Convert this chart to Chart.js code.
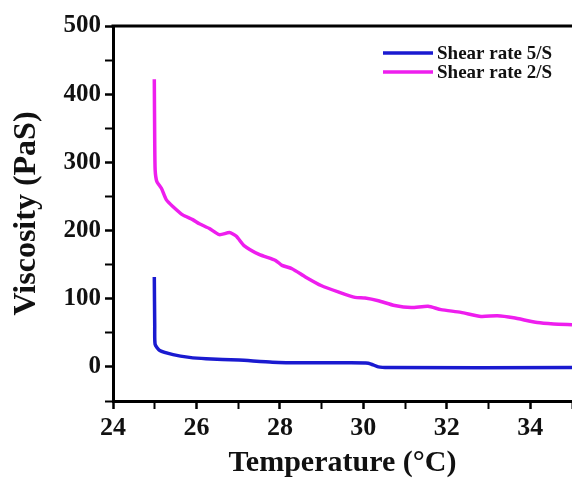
<!DOCTYPE html>
<html>
<head>
<meta charset="utf-8">
<script src="https://cdn.jsdelivr.net/npm/chart.js@4/dist/chart.umd.min.js"></script>
<style>
    html, body { margin: 0; padding: 0; background: #fff; overflow: hidden; }
    #wrap { position: relative; width: 576px; height: 481px; }
</style>
</head>
<body>
<div id="wrap"><canvas id="viscosityChart"></canvas></div>
<script>
// === DATA ===
const temp5 = [24.99, 25.0, 25.01, 25.12, 25.44, 25.83, 26.23, 27.02, 27.82, 28.6, 29.4, 30.12, 30.36, 30.6, 35.0];
const visc5 = [132, 60, 33, 24, 18, 14, 12, 10, 7, 6, 6, 5.5, 0, -1, -1];

const temp2 = [24.99, 25.0, 25.01, 25.05, 25.16, 25.28, 25.44, 25.67, 25.91, 26.07, 26.31, 26.55, 26.79, 26.95,
    27.14, 27.5, 27.9, 28.05, 28.29, 28.61, 29.0, 29.4, 29.8, 30.04, 30.36, 30.75, 31.15, 31.55, 31.86, 32.34,
    32.82, 33.21, 33.6, 34.17, 34.56, 35.0];
const visc2 = [422, 330, 289, 272, 262, 245, 235, 223, 216, 210, 203, 194, 197, 192,
    178, 165, 156, 149, 144, 132, 119, 110, 102, 101, 97, 90, 87, 89, 84, 80,
    74, 75, 72, 65, 63, 62];

const seriesLabels = ['Shear rate 5/S', 'Shear rate 2/S'];
const xTickLabels = [24, 26, 28, 30, 32, 34];
const yTickLabels = [0, 100, 200, 300, 400, 500];

const COLORS = {
    blue: '#1a1ad0',
    magenta: '#ee1eee',
    axis: '#000'
};

const FONT = 'Liberation Serif';

function toPoints(xs, ys) {
    return xs.map((x, i) => ({ x: x, y: ys[i] }));
}

// top frame line across the plot
const topFrame = {
    id: 'topFrame',
    afterDraw(chart) {
        const { ctx, chartArea } = chart;
        ctx.save();
        ctx.strokeStyle = COLORS.axis;
        ctx.lineWidth = 3;
        ctx.beginPath();
        ctx.moveTo(chartArea.left - 1.5, chartArea.top);
        ctx.lineTo(chartArea.right + 2, chartArea.top);
        ctx.stroke();
        ctx.restore();
    }
};

// small legend in the upper right corner
const cornerLegend = {
    id: 'cornerLegend',
    afterDraw(chart) {
        const ctx = chart.ctx;
        ctx.save();
        ctx.font = 'bold 19px "' + FONT + '"';
        ctx.textBaseline = 'middle';
        ctx.textAlign = 'left';
        chart.data.datasets.forEach((ds, i) => {
            const y = 53 + i * 19;
            ctx.strokeStyle = ds.borderColor;
            ctx.lineWidth = 3.5;
            ctx.beginPath();
            ctx.moveTo(383, y);
            ctx.lineTo(433, y);
            ctx.stroke();
            ctx.fillStyle = '#111';
            ctx.fillText(ds.label, 437, y + 1);
        });
        ctx.restore();
    }
};

new Chart(document.getElementById('viscosityChart'), {
    type: 'line',
    data: {
        datasets: [
            {
                label: seriesLabels[0],
                data: toPoints(temp5, visc5),
                borderColor: COLORS.blue,
                borderWidth: 3.5,
                pointRadius: 0,
                tension: 0.2,
                fill: false
            },
            {
                label: seriesLabels[1],
                data: toPoints(temp2, visc2),
                borderColor: COLORS.magenta,
                borderWidth: 3.5,
                pointRadius: 0,
                tension: 0.2,
                fill: false
            }
        ]
    },
    options: {
        responsive: true,
        maintainAspectRatio: false,
        animation: false,
        layout: { padding: { top: 26, right: 0, bottom: 0, left: 0 } },
        plugins: {
            legend: { display: false },
            tooltip: { enabled: false }
        },
        scales: {
            x: {
                type: 'linear',
                min: 24,
                max: 35,
                afterFit: scale => { scale.height = 80; },
                border: { color: COLORS.axis, width: 3 },
                grid: {
                    drawOnChartArea: false,
                    tickLength: 8,
                    tickColor: COLORS.axis,
                    tickWidth: ctx => (xTickLabels.includes(ctx.tick.value) ? 2.5 : 2)
                },
                ticks: {
                    stepSize: 1,
                    autoSkip: false,
                    maxRotation: 0,
                    padding: 4,
                    color: '#111',
                    font: { family: FONT, size: 26, weight: 'bold' },
                    callback: v => (xTickLabels.includes(v) ? String(v) : '')
                },
                title: {
                    display: true,
                    text: 'Temperature (°C)',
                    color: '#111',
                    font: { family: FONT, size: 30, weight: 'bold', lineHeight: 1.2 },
                    padding: { top: 0, bottom: 0 }
                }
            },
            y: {
                min: -50,
                max: 500,
                afterFit: scale => { scale.width = 113; },
                border: { color: COLORS.axis, width: 3 },
                grid: {
                    drawOnChartArea: false,
                    tickLength: 8,
                    tickColor: COLORS.axis,
                    tickWidth: ctx => (yTickLabels.includes(ctx.tick.value) ? 2.5 : 2)
                },
                ticks: {
                    stepSize: 50,
                    autoSkip: false,
                    padding: 4,
                    color: '#111',
                    font: { family: FONT, size: 25, weight: 'bold' },
                    callback: v => (yTickLabels.includes(v) ? String(v) : '')
                },
                title: {
                    display: true,
                    text: 'Viscosity (PaS)',
                    color: '#111',
                    font: { family: FONT, size: 32, weight: 'bold', lineHeight: 1.2 },
                    padding: { top: 8, bottom: 0 }
                }
            }
        }
    },
    plugins: [topFrame, cornerLegend]
});
</script>
</body>
</html>
